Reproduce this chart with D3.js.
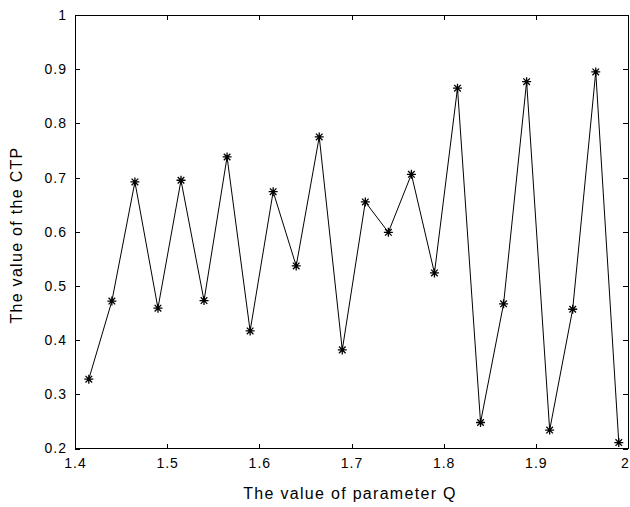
<!DOCTYPE html>
<html>
<head>
<meta charset="utf-8">
<script src="https://cdn.jsdelivr.net/npm/d3@7"></script>
<style>
  html, body { margin: 0; padding: 0; background: #fff; }
  svg { display: block; }
  text { font-family: "Liberation Sans", Arial, sans-serif; fill: #000; }
</style>
</head>
<body>
<svg id="chart" width="630" height="507"></svg>
<script>
const qValues = [1.415, 1.44, 1.465, 1.49, 1.515, 1.54, 1.565, 1.59, 1.615, 1.64, 1.665, 1.69,
                 1.715, 1.74, 1.765, 1.79, 1.815, 1.84, 1.865, 1.89, 1.915, 1.94, 1.965, 1.99];
const ctpValues = [0.328, 0.472, 0.692, 0.459, 0.695, 0.473, 0.738, 0.417, 0.674, 0.537, 0.775, 0.382,
                   0.655, 0.599, 0.706, 0.524, 0.865, 0.248, 0.467, 0.877, 0.234, 0.457, 0.895, 0.211];
const xTicks = [1.4, 1.5, 1.6, 1.7, 1.8, 1.9, 2];
const yTicks = [0.2, 0.3, 0.4, 0.5, 0.6, 0.7, 0.8, 0.9, 1];
const xLabel = "The value of parameter Q";
const yLabel = "The value of the CTP";

(function () {
const svg = d3.select("#chart");
const L = 75, R = 628, T = 15, B = 448.5;
const x = d3.scaleLinear().domain([1.4, 2]).range([L, R]);
const y = d3.scaleLinear().domain([0.2, 1]).range([B, T]);
const fmt = d => (d === 1 || d === 2) ? String(d) : d3.format(".1f")(d);

// frame
svg.append("rect").attr("x", L).attr("y", T).attr("width", R - L).attr("height", B - T)
  .attr("fill", "none").attr("stroke", "#000").attr("stroke-width", 1).attr("shape-rendering", "crispEdges");

// axes (ticks inward)
const gB = svg.append("g").attr("transform", `translate(0,${B})`)
  .call(d3.axisBottom(x).tickValues(xTicks).tickFormat(fmt).tickSizeInner(-5).tickSizeOuter(0).tickPadding(10));
const gT = svg.append("g").attr("transform", `translate(0,${T})`)
  .call(d3.axisTop(x).tickValues(xTicks).tickFormat("").tickSizeInner(-5).tickSizeOuter(0));
const gL = svg.append("g").attr("transform", `translate(${L},0)`)
  .call(d3.axisLeft(y).tickValues(yTicks).tickFormat(fmt).tickSizeInner(-5).tickSizeOuter(0).tickPadding(8));
const gR = svg.append("g").attr("transform", `translate(${R},0)`)
  .call(d3.axisRight(y).tickValues(yTicks).tickFormat("").tickSizeInner(-5).tickSizeOuter(0));
[gB, gT, gL, gR].forEach(g => {
  g.select(".domain").remove();
  g.selectAll("line").attr("stroke", "#000").attr("shape-rendering", "crispEdges");
  g.selectAll("text").attr("font-size", 14).attr("letter-spacing", 1)
    .attr("font-family", "Liberation Sans, Arial, sans-serif").attr("fill", "#000");
});
// keep the last x label inside the window
gB.selectAll(".tick text").filter(d => d === 2).attr("dx", -3);

// line
const data = qValues.map((q, i) => ({ q, v: ctpValues[i] }));
svg.append("path").datum(data)
  .attr("fill", "none").attr("stroke", "#000").attr("stroke-width", 1)
  .attr("d", d3.line().x(d => x(d.q)).y(d => y(d.v)));

// asterisk markers
const s = 4.5, sd = 3.3;
const m = svg.append("g").selectAll("g").data(data).join("g")
  .attr("transform", d => `translate(${x(d.q)},${y(d.v)})`);
m.append("path")
  .attr("d", `M${-s},0H${s}M0,${-s}V${s}M${-sd},${-sd}L${sd},${sd}M${-sd},${sd}L${sd},${-sd}`)
  .attr("stroke", "#000").attr("stroke-width", 1.3).attr("fill", "none");

// axis labels
svg.append("text").attr("x", 350).attr("y", 499).attr("text-anchor", "middle")
  .attr("font-size", 16).attr("letter-spacing", 1.3).text(xLabel);
svg.append("text").attr("transform", `translate(22,235) rotate(-90)`)
  .attr("text-anchor", "middle").attr("font-size", 16).attr("letter-spacing", 1.3).text(yLabel);
})();
</script>
</body>
</html>
